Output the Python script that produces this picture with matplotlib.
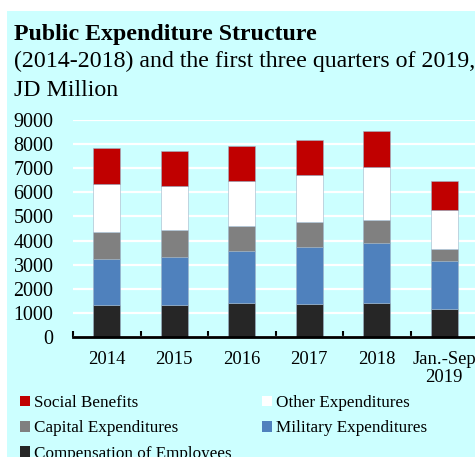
import numpy as np
import matplotlib.pyplot as plt
from matplotlib.patches import Patch, Rectangle

plt.rcParams['font.family'] = ['Liberation Serif', 'DejaVu Serif']

# values (JD million)
years = ["2014", "2015", "2016", "2017", "2018", "Jan.-Sep\n2019"]
compensation = [1320, 1330, 1390, 1370, 1410, 1165]
military = [1910, 1990, 2180, 2340, 2495, 1965]
capital = [1130, 1110, 1040, 1040, 930, 515]
other = [2000, 1830, 1860, 1955, 2205, 1620]
social = [1480, 1455, 1480, 1465, 1505, 1205]

series = [
    ("Compensation of Employees", compensation, '#262626'),
    ("Military Expenditures", military, '#4F81BD'),
    ("Capital Expenditures", capital, '#808080'),
    ("Other Expenditures", other, '#FFFFFF'),
    ("Social Benefits", social, '#C00000'),
]

bg = '#CCFFFF'

fig = plt.figure(figsize=(4.75, 4.57), dpi=100)
fig.patch.set_facecolor('white')
fig.patches.append(Rectangle((7 / 475, 0), 1, 1 - 11 / 457, transform=fig.transFigure,
                             facecolor=bg, edgecolor='none', zorder=-10))

ax = fig.add_axes([73 / 475, 120.3 / 457, 405 / 475, 216.4 / 457])
ax.set_facecolor(bg)

x = np.arange(len(years))
bottom = np.zeros(len(years))
for name, vals, col in series:
    ax.bar(x, vals, width=0.4, bottom=bottom, color=col, edgecolor='#9fb4c8',
           linewidth=0.4, label=name, zorder=3)
    bottom += np.array(vals)

ax.set_xlim(-0.5, len(years) - 0.5)
ax.set_ylim(0, 9000)
ax.set_yticks(np.arange(0, 9001, 1000))
ax.yaxis.grid(True, color='white', linewidth=1.6, zorder=0)
ax.set_axisbelow(True)
for s in ['top', 'right', 'left']:
    ax.spines[s].set_visible(False)
ax.spines['bottom'].set_linewidth(2)
ax.spines['bottom'].set_zorder(4)

ax.set_xticks(x)
ax.set_xticklabels(years, fontsize=13.4, linespacing=1.1)
ax.set_xticks(np.arange(-0.5, len(years), 1), minor=True)
ax.tick_params(axis='x', which='major', length=0, pad=10)
ax.tick_params(axis='x', which='minor', direction='in', length=4, width=1.5)
ax.tick_params(axis='y', length=0, pad=14, labelsize=14.4)

fig.text(14 / 475, 1 - 40 / 457, "Public Expenditure Structure",
         fontsize=17.2, fontweight='bold', va='baseline')
fig.text(14 / 475, 1 - 66.5 / 457, "(2014-2018) and the first three quarters of 2019,",
         fontsize=17.2, va='baseline')
fig.text(14 / 475, 1 - 96 / 457, "JD Million", fontsize=17.2, va='baseline')

lookup = {name: col for name, vals, col in series}
order = ["Social Benefits", "Capital Expenditures", "Compensation of Employees",
         "Other Expenditures", "Military Expenditures"]
handles = [Patch(facecolor=lookup[n], edgecolor='none', label=n) for n in order]
fig.legend(handles=handles, ncol=2, loc='upper left',
           bbox_to_anchor=(20 / 475, 1 - 395 / 457), frameon=False,
           fontsize=12.3, handlelength=0.6, handleheight=0.6, handletextpad=0.2,
           columnspacing=1.8, labelspacing=0.55, borderpad=0, borderaxespad=0)

fig.savefig('out.png', dpi=100)
